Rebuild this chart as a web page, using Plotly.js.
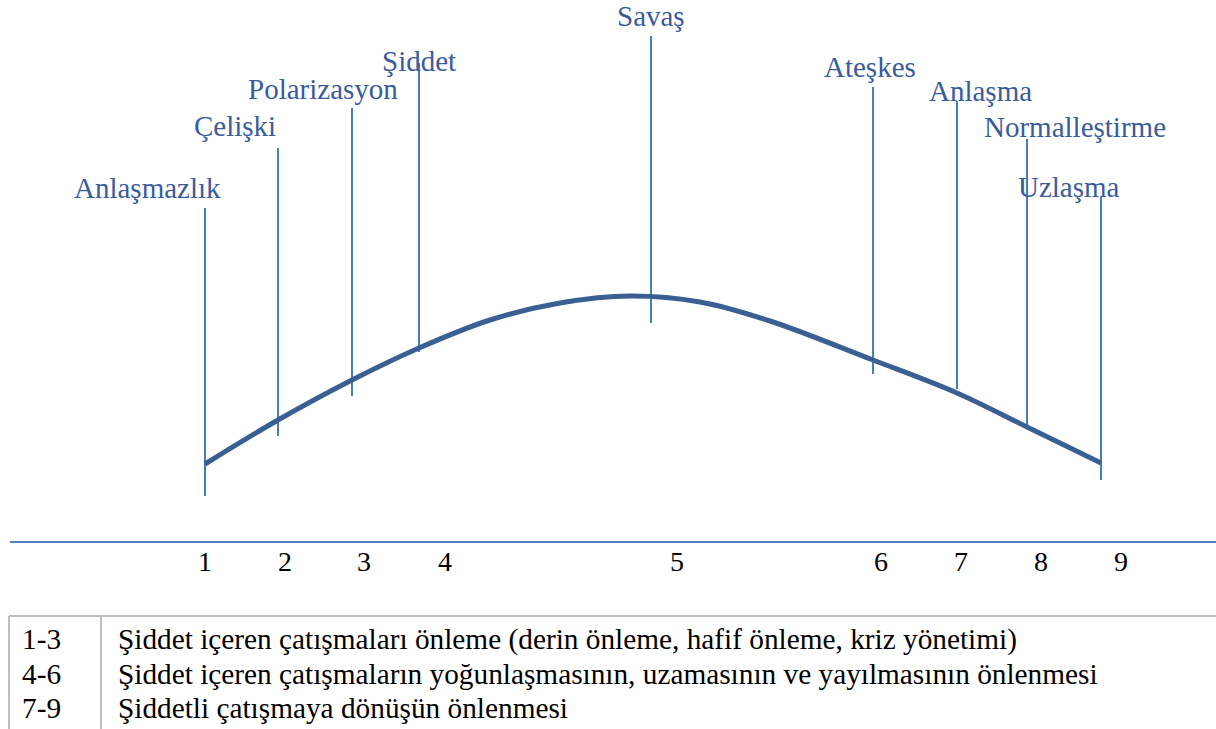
<!DOCTYPE html>
<html>
<head>
<meta charset="utf-8">
<script src="https://cdn.plot.ly/plotly-3.0.1.min.js"></script>
<style>html,body{margin:0;padding:0;background:#fff;}#chart{width:1216px;height:729px;}</style>
</head>
<body>
<div id="chart"></div>
<script>
// Stage labels and their marker lines
const stageLabels = ['Anlaşmazlık','Çelişki','Polarizasyon','Şiddet','Savaş','Ateşkes','Anlaşma','Normalleştirme','Uzlaşma'];
const stageLineX = [205, 278, 352, 419, 651, 873, 957, 1027, 1101];
const stageLineTop = [208, 148, 108, 63, 36, 87, 101, 139, 197];
const stageLineBottom = [496, 436, 396, 352, 323, 374, 389, 425, 480];
const labelX = [147, 235, 323, 419, 651, 870, 980, 1075, 1069];
const labelY = [188, 126, 89, 61, 16, 67, 91, 127, 187];

// Conflict intensity curve
const curveX = [205, 278, 352, 419, 490, 560, 630, 700, 770, 873, 957, 1027, 1101];
const curveY = [464, 420, 380, 348, 320, 303, 296, 302, 321, 360, 393, 427, 463];

// Axis tick labels
const tickLabels = ['1','2','3','4','5','6','7','8','9'];
const tickX = [205, 285, 364, 445, 677, 881, 961, 1041, 1121];
const tickY = 561;
const axisLineY = 542;

// Legend table
const tableRanges = ['1-3','4-6','7-9'];
const tableTexts = [
  'Şiddet içeren çatışmaları önleme (derin önleme, hafif önleme, kriz yönetimi)',
  'Şiddet içeren çatışmaların yoğunlaşmasının, uzamasının ve yayılmasının önlenmesi',
  'Şiddetli çatışmaya dönüşün önlenmesi'
];
const tableRowY = [639, 674, 708];
const tableTop = 616;

const lineColor = '#4a7ebb';
const curveColor = '#3a5f93';
const labelColor = '#3a5b9c';
const serif = 'Liberation Serif';

// vertical marker lines as one trace
const vx = [], vy = [];
stageLineX.forEach((x, i) => { vx.push(x, x, null); vy.push(stageLineTop[i], stageLineBottom[i], null); });

const traces = [
  {x: vx, y: vy, mode: 'lines', line: {color: lineColor, width: 2}, hoverinfo: 'skip', showlegend: false},
  {x: curveX, y: curveY, mode: 'lines', line: {color: curveColor, width: 5, shape: 'spline', smoothing: 1}, hoverinfo: 'skip', showlegend: false}
];

const annotations = [];
stageLabels.forEach((t, i) => annotations.push({
  x: labelX[i], y: labelY[i], xref: 'x', yref: 'y', text: t, showarrow: false,
  xanchor: 'center', yanchor: 'middle', font: {family: serif, size: 29, color: labelColor}
}));
tickLabels.forEach((t, i) => annotations.push({
  x: tickX[i], y: tickY, xref: 'x', yref: 'y', text: t, showarrow: false,
  xanchor: 'center', yanchor: 'middle', font: {family: serif, size: 28, color: '#000'}
}));
tableRanges.forEach((t, i) => {
  annotations.push({x: 20, y: tableRowY[i], xref: 'x', yref: 'y', text: t, showarrow: false,
    xanchor: 'left', yanchor: 'middle', font: {family: serif, size: 29.3, color: '#000'}});
  annotations.push({x: 116, y: tableRowY[i], xref: 'x', yref: 'y', text: tableTexts[i], showarrow: false,
    xanchor: 'left', yanchor: 'middle', font: {family: serif, size: 29.3, color: '#000'}});
});

const shapes = [
  {type: 'line', xref: 'x', yref: 'y', x0: 10, x1: 1216, y0: axisLineY, y1: axisLineY, line: {color: '#4f7fc0', width: 2}},
  {type: 'line', xref: 'x', yref: 'y', x0: 9, x1: 1216, y0: tableTop, y1: tableTop, line: {color: '#bfbfbf', width: 2}},
  {type: 'line', xref: 'x', yref: 'y', x0: 9, x1: 9, y0: tableTop, y1: 729, line: {color: '#bfbfbf', width: 2}},
  {type: 'line', xref: 'x', yref: 'y', x0: 101, x1: 101, y0: tableTop, y1: 729, line: {color: '#bfbfbf', width: 2}}
];

const layout = {
  width: 1216, height: 729,
  margin: {l: 0, r: 0, t: 0, b: 0},
  paper_bgcolor: '#fff', plot_bgcolor: '#fff',
  font: {family: serif},
  xaxis: {range: [0, 1216], visible: false, fixedrange: true},
  yaxis: {range: [729, 0], visible: false, fixedrange: true},
  showlegend: false,
  annotations: annotations,
  shapes: shapes
};

Plotly.newPlot('chart', traces, layout, {displayModeBar: false, staticPlot: true});
</script>
</body>
</html>
